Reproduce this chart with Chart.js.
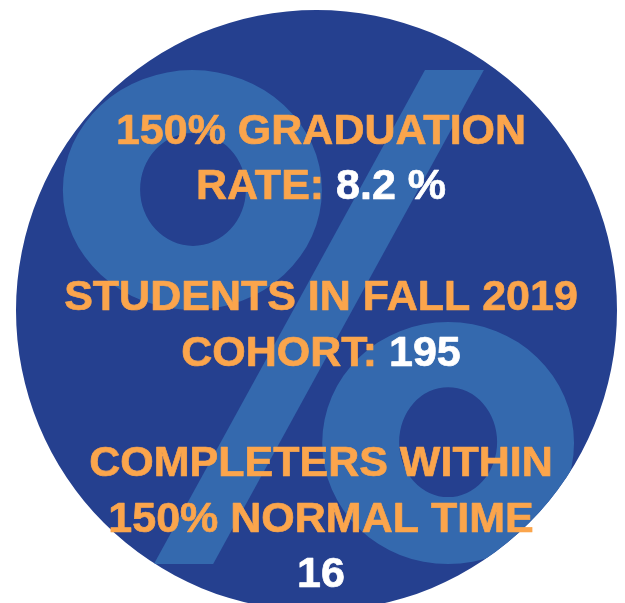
<!DOCTYPE html>
<html lang="en">
<head>
    <meta charset="UTF-8">
    <title>150% Graduation Rate</title>
    <style>
        body { margin: 0; background: #ffffff; overflow: hidden; }
        #wrap { width: 625px; height: 625px; }
    </style>
</head>
<body>
    <div id="wrap">
        <canvas id="rateChart"></canvas>
    </div>

    <script src="https://cdn.jsdelivr.net/npm/chart.js"></script>

    <script>
        // the three figures and the wording around them
        const headings = [
            ['150% GRADUATION', 'RATE: '],
            ['STUDENTS IN FALL 2019', 'COHORT: '],
            ['COMPLETERS WITHIN', '150% NORMAL TIME', '']
        ];
        const values = [8.2, 195, 16];
        const units = [' %', '', ''];

        const ctx = document.getElementById('rateChart');

        // decorative percent sign, in units of the disc radius
        function drawPercent(c, cx, cy, r) {
            const ring = (ox, oy, rx, ry, hx, hy, hrx, hry) => {
                c.beginPath();
                c.ellipse(cx + ox * r, cy + oy * r, rx * r, ry * r, 0, 0, Math.PI * 2);
                c.ellipse(cx + hx * r, cy + hy * r, hrx * r, hry * r, 0, 0, Math.PI * 2, true);
                c.fill('evenodd');
            };
            ring(-0.413, -0.401, 0.431, 0.399, -0.411, -0.403, 0.176, 0.188);
            ring(0.438, 0.441, 0.419, 0.403, 0.438, 0.438, 0.163, 0.183);
            c.beginPath();
            c.moveTo(cx + 0.361 * r, cy - 0.800 * r);
            c.lineTo(cx + 0.557 * r, cy - 0.800 * r);
            c.lineTo(cx - 0.344 * r, cy + 0.844 * r);
            c.lineTo(cx - 0.541 * r, cy + 0.844 * r);
            c.closePath();
            c.fill();
        }

        const badgeText = {
            id: 'badgeText',
            afterDatasetsDraw(chart) {
                const arc = chart.getDatasetMeta(0).data[0];
                const cx = arc.x, cy = arc.y, r = arc.outerRadius;
                const c = chart.ctx;
                c.save();

                c.save();
                c.beginPath();
                c.arc(cx, cy, r, 0, Math.PI * 2);
                c.clip();
                c.fillStyle = '#3469ae';
                drawPercent(c, cx, cy, r);
                c.restore();

                // stacked labels
                c.font = 'bold 43px "Liberation Sans", Arial, sans-serif';
                c.textAlign = 'left';
                c.textBaseline = 'alphabetic';
                c.lineWidth = 0.7;
                c.lineJoin = 'round';
                let step = 55.4;
                let y = 144;
                let tx = cx + 4.5;
                headings.forEach((lines, i) => {
                    lines.forEach((txt, j) => {
                        let last = j == lines.length - 1;
                        let val = last ? values[i] + units[i] : '';
                        let w1 = c.measureText(txt).width;
                        let w2 = c.measureText(val).width;
                        let x0 = tx - (w1 + w2) / 2;
                        c.fillStyle = c.strokeStyle = '#fba54c';
                        c.fillText(txt, x0, y);
                        c.strokeText(txt, x0, y);
                        c.fillStyle = c.strokeStyle = '#ffffff';
                        c.fillText(val, x0 + w1, y);
                        c.strokeText(val, x0 + w1, y);
                        y += step;
                    });
                    y += step;
                });
                c.restore();
            }
        };

        let rateChart = new Chart(ctx, {
            type: 'pie',
            data: {
                labels: ['cohort'],
                datasets: [{
                    data: [values[1]],
                    backgroundColor: '#25408f',
                    borderWidth: 0
                }]
            },
            options: {
                responsive: true,
                maintainAspectRatio: false,
                animation: false,
                layout: { padding: { left: 16, right: 8, top: 10, bottom: 14 } },
                plugins: {
                    legend: { display: false },
                    tooltip: { enabled: false }
                }
            },
            plugins: [badgeText]
        });
    </script>
</body>
</html>
